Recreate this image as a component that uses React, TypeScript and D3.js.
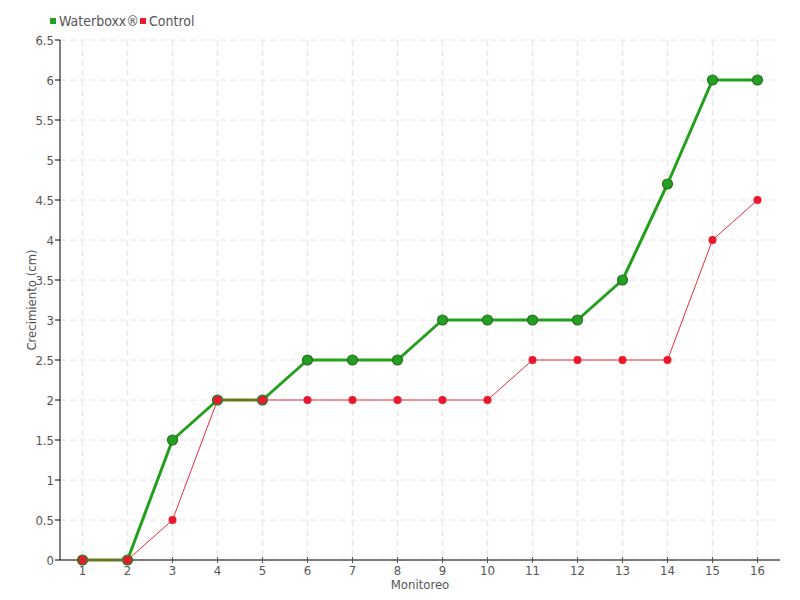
import React from "react";
import * as d3 from "d3";

const categories = ["1","2","3","4","5","6","7","8","9","10","11","12","13","14","15","16"];
const waterboxx = [0,0,1.5,2,2,2.5,2.5,2.5,3,3,3,3,3.5,4.7,6,6];
const control = [0,0,0.5,2,2,2,2,2,2,2,2.5,2.5,2.5,2.5,4,4.5];
const yTicks = [0,0.5,1,1.5,2,2.5,3,3.5,4,4.5,5,5.5,6,6.5];

const W = 800, H = 600;
const left = 60, right = 780, top = 40, bottom = 560;
const FONT = "'DejaVu Sans Condensed', 'Liberation Sans Narrow', sans-serif";

export default function App() {
  const x = d3.scaleBand<string>().domain(categories).range([left, right]);
  const cx = (c: string) => (x(c) as number) + x.bandwidth() / 2;
  const y = d3.scaleLinear().domain([0, 6.5]).range([bottom, top]);
  const line = d3.line<number>().x((_, i) => cx(categories[i])).y(d => y(d));
  return (
    <svg width={W} height={H} style={{ position: "absolute", left: 0, top: 0, fontFamily: FONT, fontStretch: "condensed" }}>
      <rect width={W} height={H} fill="#fff" />
      {yTicks.map(t => (
        <line key={"hg" + t} x1={left} x2={right} y1={y(t)} y2={y(t)} stroke="#e4e4e4" strokeDasharray="6,4" />
      ))}
      {categories.map(c => (
        <line key={"vg" + c} x1={cx(c)} x2={cx(c)} y1={top} y2={bottom} stroke="#e8e8e8" strokeDasharray="6,4" strokeWidth={1.5} />
      ))}
      <line x1={left} x2={left} y1={top} y2={bottom} stroke="#000" />
      <line x1={left} x2={right} y1={bottom} y2={bottom} stroke="#000" />
      {yTicks.map(t => (
        <g key={"yt" + t}>
          <line x1={left - 5} x2={left} y1={y(t)} y2={y(t)} stroke="#000" />
          <text x={left - 6} y={y(t)} dy="0.35em" textAnchor="end" fontSize={13} fill="#555">{t}</text>
        </g>
      ))}
      {categories.map(c => (
        <g key={"xt" + c}>
          <line x1={cx(c)} x2={cx(c)} y1={bottom - 3} y2={bottom + 3} stroke="#555" />
          <text x={cx(c)} y={bottom + 15} textAnchor="middle" fontSize={13} fill="#555">{c}</text>
        </g>
      ))}
      <text x={(left + right) / 2} y={589} textAnchor="middle" fontSize={13} fill="#555">Monitoreo</text>
      <text transform={`translate(36,${(top + bottom) / 2}) rotate(-90)`} textAnchor="middle" fontSize={13} fill="#555">Crecimiento (cm)</text>

      <path d={line(waterboxx) || ""} fill="none" stroke="#22a01c" strokeWidth={3} strokeLinejoin="round" />
      {waterboxx.map((v, i) => (
        <circle key={"wm" + i} cx={cx(categories[i])} cy={y(v)} r={5} fill="#23a021" stroke="#2a6e22" strokeWidth={1.2} />
      ))}
      <path d={line(control) || ""} fill="none" stroke="#ee2a3a" strokeWidth={1} />
      {control.map((v, i) => (
        <circle key={"cm" + i} cx={cx(categories[i])} cy={y(v)} r={4} fill="#e8192c" />
      ))}

      <rect x={50} y={18} width={6} height={6} fill="#22a31c" />
      <text x={59} y={26} fontSize={14} fill="#555">Waterboxx®</text>
      <rect x={140} y={18} width={6} height={6} fill="#ee1c2e" />
      <text x={149} y={26} fontSize={14} fill="#555">Control</text>
    </svg>
  );
}
